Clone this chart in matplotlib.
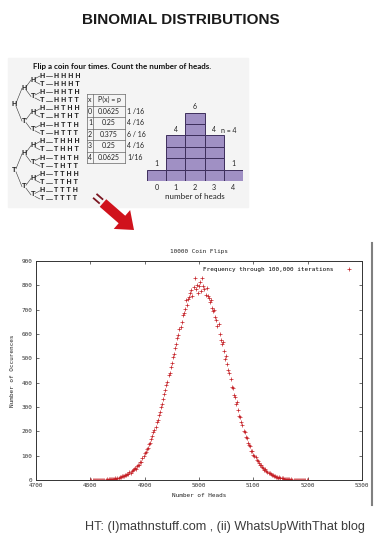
import matplotlib
matplotlib.use("Agg")
import matplotlib.pyplot as plt
from matplotlib.patches import Rectangle, FancyArrow
import itertools

# ---- data ----
head_counts = [0, 1, 2, 3, 4]
ways = [1, 4, 6, 4, 1]
probs = ["0.0625", "0.25", "0.375", "0.25", "0.0625"]
fractions = ["1 /16", "4 /16", "6 / 16", "4 /16", "1/16"]

heads = list(range(4800, 5201, 2))
occurrences = [
    0, 0, 1, 0, 0, 1, 0, 0, 1, 1,
    1, 2, 1, 1, 2, 3, 2, 3, 4, 3,
    5, 4, 6, 7, 6, 9, 8, 11, 12, 15,
    17, 16, 21, 19, 24, 26, 31, 29, 36, 40,
    44, 50, 47, 57, 61, 63, 72, 75, 89, 97,
    110, 114, 126, 133, 148, 151, 168, 181, 197, 206,
    219, 238, 247, 269, 279, 301, 312, 334, 355, 371,
    392, 404, 431, 440, 463, 482, 507, 519, 544, 560,
    583, 596, 620, 628, 651, 679, 688, 703, 738, 721,
    744, 752, 770, 781, 757, 794, 829, 786, 803, 770,
    799, 812, 776, 830, 796, 784, 762, 791, 755, 748,
    730, 741, 708, 693, 700, 671, 659, 631, 640, 601,
    574, 558, 566, 530, 497, 509, 476, 452, 441, 416,
    384, 379, 350, 341, 311, 322, 287, 262, 259, 240,
    226, 201, 199, 176, 172, 153, 144, 140, 121, 118,
    104, 97, 95, 81, 80, 68, 62, 61, 52, 48,
    43, 44, 35, 33, 28, 27, 23, 21, 19, 17,
    15, 14, 12, 10, 11, 8, 7, 7, 5, 6,
    4, 5, 3, 3, 2, 3, 2, 1, 2, 1,
    1, 0, 1, 1, 0, 0, 1, 0, 0, 0, 0,
]

plt.rcParams["font.family"] = "DejaVu Sans Mono"
SANS = "Liberation Sans"
PANEL = "Lato"

fig = plt.figure(figsize=(3.8, 5.4), dpi=100)

# overlay in pixel coords for the diagram parts
bg = fig.add_axes([0, 0, 1, 1])
bg.set_xlim(0, 380)
bg.set_ylim(540, 0)
bg.axis("off")

bg.text(181, 20, "BINOMIAL DISTRIBUTIONS", ha="center", va="center",
        fontsize=11, fontweight="bold", family=SANS, color="#1a1a1a")

bg.add_patch(Rectangle((8, 58), 240, 149, color="#f4f4f4", zorder=0))
bg.text(33, 67, "Flip a coin four times. Count the number of heads.",
        fontsize=5.8, fontweight="bold", family=PANEL, va="center", color="#111")

# coin tree
outcomes = ["".join(p) for p in itertools.product("HT", repeat=4)]
row_y = [76 + i * 8.2 for i in range(16)]
level_x = [14, 24, 33, 42]
tfont = dict(fontsize=5.2, family=SANS, fontweight="bold", color="#222",
             ha="center", va="center")

nodes = {}
for o, y in zip(outcomes, row_y):
    nodes[o] = (level_x[3], y)
for lvl in (3, 2, 1):
    for pre in set(o[:lvl] for o in outcomes):
        ys = [row_y[i] for i, o in enumerate(outcomes) if o.startswith(pre)]
        nodes[pre] = (level_x[lvl - 1], sum(ys) / len(ys))

for key, (x, y) in nodes.items():
    bg.text(x, y, key[-1], **tfont)
    if len(key) > 1:
        px, py = nodes[key[:-1]]
        bg.plot([px + 2, x - 2], [py + (1.5 if key[-1] == "T" else -1.5), y],
                color="#333", lw=0.4)

for o, y in zip(outcomes, row_y):
    bg.plot([45.5, 52], [y, y], color="#333", lw=0.5)
    bg.text(54, y, " ".join(o), fontsize=5.0, family=SANS, fontweight="bold",
            color="#222", va="center")

# probability table
tx = [87, 93, 125]
ty = [94 + 11.5 * i for i in range(7)]
for y in ty:
    bg.plot([tx[0], tx[2]], [y, y], color="#666", lw=0.5)
for x in tx:
    bg.plot([x, x], [ty[0], ty[-1]], color="#666", lw=0.5)
cell = dict(fontsize=5.0, family=PANEL, color="#222", va="center")
bg.text(90, (ty[0] + ty[1]) / 2, "x", ha="center", **cell)
bg.text(109, (ty[0] + ty[1]) / 2, "P(x) = p", ha="center", **cell)
for i in range(5):
    yc = (ty[i + 1] + ty[i + 2]) / 2
    bg.text(90, yc, str(head_counts[i]), ha="center", **cell)
    bg.text(109, yc, probs[i], ha="center", **cell)
    bg.text(127, yc, fractions[i], ha="left", **cell)

# red arrow
bg.add_patch(FancyArrow(103, 203, 31, 27, width=10, head_width=25,
                        head_length=16, length_includes_head=True,
                        color="#d0121c", lw=0))
ux, uy = 31 / 41.1, 27 / 41.1
nx, ny = -uy, ux
for off in (-2.6, 2.6):
    x0, y0 = 103 - ux * 10 + nx * off, 203 - uy * 10 + ny * off
    bg.plot([x0, x0 + ux * 7], [y0, y0 + uy * 7], color="#7a1520", lw=1.3)

# right edge line of screenshot
bg.plot([372, 372], [243, 505], color="#808080", lw=1.5)

bg.text(365, 527, "HT: (I)mathnstuff.com , (ii) WhatsUpWithThat blog",
        ha="right", va="center", fontsize=9.1, family=SANS, color="#3c3c3c")

# histogram of the four flips
hx = fig.add_axes([147 / 380, (540 - 181) / 540, 96 / 380, 74 / 540])
hx.set_facecolor("none")
for h, c in zip(head_counts, ways):
    hx.bar([h] * c, [1] * c, bottom=list(range(c)), width=1,
           color="#a090c4", edgecolor="#3d2e5c", lw=0.7)
    hx.text(h, c + 0.25, str(c), ha="center", va="bottom", fontsize=5.0,
            family=PANEL, color="#222")
hx.text(3.77, 4.4, "n = 4", ha="center", va="center", fontsize=5.0,
        family=PANEL, color="#222")
hx.set_xlim(-0.5, 4.5)
hx.set_ylim(0, 74 / 11.4)
hx.set_yticks([])
hx.set_xticks(head_counts)
hx.set_xticklabels([str(h) for h in head_counts], family=PANEL, fontsize=5.2,
                   color="#222")
hx.tick_params(length=0, pad=2)
hx.set_xlabel("number of heads", family=PANEL, fontsize=5.8, labelpad=1.5,
              color="#222")
for s in hx.spines.values():
    s.set_visible(False)

# gnuplot-style scatter
ax = fig.add_axes([36 / 380, 60 / 540, 326 / 380, 219 / 540])
ax.plot(heads, occurrences, ls="none", marker="+", ms=2.6, mew=0.5,
        color="#c41e24", label="Frequency through 100,000 iterations")
ax.set_xlim(4700, 5300)
ax.set_ylim(0, 900)
ax.set_xticks(range(4700, 5301, 100))
ax.set_yticks(range(0, 901, 100))
ax.tick_params(direction="in", top=True, right=True, length=2.5, width=0.5,
               labelsize=4.3, pad=2.5, colors="#333")
for s in ax.spines.values():
    s.set_color("#333")
    s.set_linewidth(0.7)
ax.set_title("10000 Coin Flips", fontsize=4.3, pad=6, color="#222")
ax.set_xlabel("Number of Heads", fontsize=4.3, labelpad=3, color="#222")
ax.set_ylabel("Number of Occurences", fontsize=4.3, labelpad=5, color="#222")
ax.legend(loc="upper right", markerfirst=False, frameon=False,
          prop={"size": 4.3}, handlelength=2.5, handletextpad=1.2,
          borderaxespad=0.6)

fig.savefig("out.png", dpi=100)
